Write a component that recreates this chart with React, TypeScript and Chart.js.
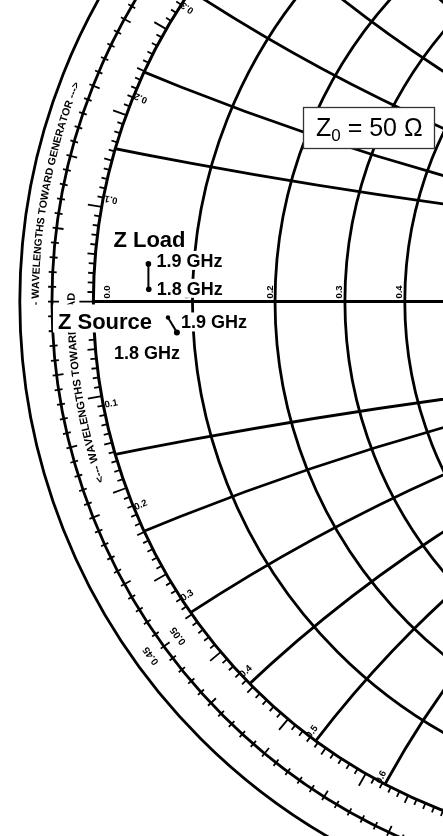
import React, { useEffect, useRef } from "react";
import { Chart, registerables } from "chart.js";

Chart.register(...registerables);

// ---------------- data ----------------
const characteristicImpedance = 50; // ohms
const frequencyLabels = ["1.8 GHz", "1.9 GHz"];
const loadResistance = [2.67, 2.59]; // ohms, at 1.8 / 1.9 GHz
const loadReactance = [0.62, 1.9];
const sourceResistance = [4.1, 3.66];
const sourceReactance = [-1.64, -0.83];

// Smith chart grid (normalized values)
const resistanceValues = [0, 0.1, 0.2, 0.3, 0.4, 0.5, 0.6, 0.8, 1];
const reactanceValues = [0.1, 0.2, 0.3, 0.4, 0.5, 0.6, 0.7, 0.8, 0.9, 1];
const resistanceTickLabels = ["0.0", "0.1", "0.2", "0.3", "0.4"];
const reactanceTickLabels = ["0.1", "0.2", "0.3", "0.4", "0.5", "0.6", "0.7", "0.8", "0.9", "1.0"];
const innerWavelengthLabels = ["0.05"]; // toward load
const outerWavelengthLabels = ["0.45"]; // toward generator
const outerRingText = "- WAVELENGTHS TOWARD GENERATOR --->";
const innerRingText = "<--- WAVELENGTHS TOWARD LOAD";

// visible window of the reflection-coefficient plane
const gammaReMin = -1.164;
const gammaReMax = -0.3658;
const gammaImMin = -0.9649;
const gammaImMax = 0.5414;

const FONT = "'Liberation Sans', Arial, Helvetica, sans-serif";

function toGamma(rOhm: number, xOhm: number): { x: number; y: number } {
  const a = rOhm / characteristicImpedance;
  const b = xOhm / characteristicImpedance;
  const d = (a + 1) * (a + 1) + b * b;
  return { x: (a * a - 1 + b * b) / d, y: (2 * b) / d };
}

const loadPoints = loadResistance.map((r, i) => toGamma(r, loadReactance[i]));
const sourcePoints = sourceResistance.map((r, i) => toGamma(r, sourceReactance[i]));

function arcText(ctx: CanvasRenderingContext2D, text: string, cx: number, cy: number, radius: number, start: number) {
  let a = start;
  for (const ch of text) {
    const w = ctx.measureText(ch).width;
    const mid = a + w / 2 / radius;
    ctx.save();
    ctx.translate(cx + radius * Math.cos(mid), cy + radius * Math.sin(mid));
    ctx.rotate(mid + Math.PI / 2);
    ctx.textAlign = "center";
    ctx.textBaseline = "middle";
    ctx.fillText(ch, 0, 0);
    ctx.restore();
    a += w / radius;
  }
}

const smithPlugin = {
  id: "smithGrid",
  beforeDatasetsDraw(chart: any) {
    const ctx: CanvasRenderingContext2D = chart.ctx;
    const xs = chart.scales.x;
    const ys = chart.scales.y;
    const X = (v: number) => xs.getPixelForValue(v);
    const Y = (v: number) => ys.getPixelForValue(v);
    const k = X(1) - X(0);
    const cx = X(0);
    const cy = Y(0);
    const TAU = Math.PI * 2;
    const ringInner = 1.076;
    const ringOuter = 1.135;

    ctx.save();
    ctx.fillStyle = "#fff";
    ctx.fillRect(0, 0, chart.width, chart.height);
    ctx.strokeStyle = "#000";
    ctx.fillStyle = "#000";

    // outer wavelength rings
    ctx.lineWidth = 2.8;
    [ringInner, ringOuter].forEach((s) => {
      ctx.beginPath();
      ctx.arc(cx, cy, k * s, 0, TAU);
      ctx.stroke();
    });

    // grid clipped to unit circle
    ctx.save();
    ctx.beginPath();
    ctx.arc(cx, cy, k, 0, TAU);
    ctx.clip();
    ctx.lineWidth = 2.8;
    resistanceValues.forEach((r) => {
      if (r === 0) return;
      ctx.beginPath();
      ctx.arc(X(r / (1 + r)), cy, k / (1 + r), 0, TAU);
      ctx.stroke();
    });
    reactanceValues.forEach((x) => {
      [1, -1].forEach((s) => {
        ctx.beginPath();
        ctx.arc(X(1), Y(s / x), k / x, 0, TAU);
        ctx.stroke();
      });
    });
    ctx.lineWidth = 3;
    ctx.beginPath();
    ctx.moveTo(X(-1), cy);
    ctx.lineTo(X(1), cy);
    ctx.stroke();
    ctx.restore();

    // unit circle
    ctx.lineWidth = 3;
    ctx.beginPath();
    ctx.arc(cx, cy, k, 0, TAU);
    ctx.stroke();

    // angle ticks on unit circle (1 degree)
    ctx.lineWidth = 1.8;
    ctx.beginPath();
    for (let d = 0; d < 360; d++) {
      const len = d % 10 === 0 ? 14 : d % 5 === 0 ? 8 : 6;
      const a = Math.PI + (d * Math.PI) / 180;
      ctx.moveTo(cx + k * Math.cos(a), cy + k * Math.sin(a));
      ctx.lineTo(cx + (k + len) * Math.cos(a), cy + (k + len) * Math.sin(a));
    }
    ctx.stroke();

    // wavelength ticks on the ring (0.002 lambda)
    const step = 0.002 * 4 * Math.PI;
    const rr = k * ringInner;
    ctx.beginPath();
    for (let n = 0; n < 250; n++) {
      const a = Math.PI + n * step;
      const inner = n % 5 === 0 ? 7 : 4;
      const outer = 4;
      ctx.moveTo(cx + (rr - inner) * Math.cos(a), cy + (rr - inner) * Math.sin(a));
      ctx.lineTo(cx + (rr + outer) * Math.cos(a), cy + (rr + outer) * Math.sin(a));
    }
    ctx.stroke();

    // ring texts
    const rOuterText = k * ((ringInner + ringOuter) / 2);
    const rInnerText = k * ((1 + ringInner) / 2) + 1;
    ctx.font = `bold 10.5px ${FONT}`;
    arcText(ctx, outerRingText, cx, cy, rOuterText, Math.PI - 0.006);
    ctx.font = `bold 11px ${FONT}`;
    arcText(ctx, innerRingText, cx, cy, rInnerText, Math.PI - (18.6 * Math.PI) / 180);

    // wavelength labels
    ctx.font = `bold 10px ${FONT}`;
    innerWavelengthLabels.forEach((l) => {
      const lam = parseFloat(l);
      const center = Math.PI - lam * 4 * Math.PI;
      const w = ctx.measureText(l).width;
      arcText(ctx, l, cx, cy, rInnerText + 2, center - w / 2 / (rInnerText + 2));
    });
    outerWavelengthLabels.forEach((l) => {
      const lam = parseFloat(l);
      const center = Math.PI + lam * 4 * Math.PI;
      const w = ctx.measureText(l).width;
      arcText(ctx, l, cx, cy, rOuterText, center - w / 2 / rOuterText);
    });

    // reactance labels
    ctx.font = `bold 9.5px ${FONT}`;
    reactanceValues.forEach((x, i) => {
      const lbl = reactanceTickLabels[i];
      const theta = 2 * Math.atan(x);
      const gx = (x * x - 1) / (x * x + 1);
      const gy = (2 * x) / (x * x + 1);
      ctx.save();
      ctx.translate(X(gx), Y(-gy));
      ctx.rotate(-theta);
      ctx.textAlign = "left";
      ctx.textBaseline = "alphabetic";
      ctx.fillText(lbl, 1.5, -2.5);
      ctx.restore();
      ctx.save();
      ctx.translate(X(gx), Y(gy));
      ctx.rotate(theta + Math.PI);
      ctx.textAlign = "right";
      ctx.textBaseline = "alphabetic";
      ctx.fillText(lbl, -1.5, -2.5);
      ctx.restore();
    });

    // resistance labels on real axis
    resistanceTickLabels.forEach((lbl) => {
      const r = parseFloat(lbl);
      const gx = (r - 1) / (r + 1);
      ctx.save();
      ctx.translate(X(gx) + (r === 0 ? 17 : -2.5), cy - 3);
      ctx.rotate(-Math.PI / 2);
      ctx.textAlign = "left";
      ctx.textBaseline = "alphabetic";
      ctx.fillText(lbl, 0, 0);
      ctx.restore();
    });

    // Z0 box
    const ca = chart.chartArea;
    const bx = ca.right - 136;
    const by = ca.top + 103;
    ctx.fillStyle = "#fff";
    ctx.fillRect(bx, by, 131, 41);
    ctx.strokeStyle = "#333";
    ctx.lineWidth = 1.3;
    ctx.strokeRect(bx + 0.5, by + 0.5, 131, 41);
    ctx.fillStyle = "#000";
    ctx.textAlign = "left";
    ctx.textBaseline = "alphabetic";
    let tx = bx + 13;
    const base = by + 29;
    ctx.font = `25px ${FONT}`;
    ctx.fillText("Z", tx, base);
    tx += ctx.measureText("Z").width;
    ctx.font = `17px ${FONT}`;
    ctx.fillText("0", tx, base + 5);
    tx += ctx.measureText("0").width;
    ctx.font = `25px ${FONT}`;
    ctx.fillText(" = 50 \u03A9", tx, base);

    // annotations
    const label = (text: string, x: number, y: number, font: string, box?: [number, number]) => {
      ctx.font = font;
      const w = ctx.measureText(text).width;
      if (box) {
        ctx.fillStyle = "#fff";
        ctx.fillRect(x - box[0], y - box[1], w + box[0] * 2 - 1, box[1] + 3);
      }
      ctx.fillStyle = "#000";
      ctx.textAlign = "left";
      ctx.textBaseline = "alphabetic";
      ctx.fillText(text, x, y);
    };
    const big = `bold 22px ${FONT}`;
    const mid = `bold 18px ${FONT}`;
    const lp = loadPoints.map((p) => [X(p.x), Y(p.y)]);
    const sp = sourcePoints.map((p) => [X(p.x), Y(p.y)]);
    label("Z Load", lp[1][0] - 35, lp[1][1] - 17, big);
    label(frequencyLabels[1], lp[1][0] + 8, lp[1][1] + 3, mid, [2, 16]);
    label(frequencyLabels[0], lp[0][0] + 8, lp[0][1] + 5.5, mid, [2, 16]);
    label("Z Source", sp[1][0] - 110, sp[1][1] + 12, big, [5, 25]);
    label(frequencyLabels[1], sp[1][0] + 13, sp[1][1] + 11, mid, [1, 16]);
    label(frequencyLabels[0], sp[0][0] - 63, sp[0][1] + 27, mid, [1, 16]);

    ctx.restore();
  },
};

export default function App() {
  const ref = useRef<HTMLCanvasElement | null>(null);
  useEffect(() => {
    document.body.style.margin = "0";
    if (!ref.current) return;
    const chart = new Chart(ref.current, {
      type: "scatter",
      data: {
        datasets: [
          {
            label: "Z Load",
            data: loadPoints,
            showLine: true,
            borderColor: "#000",
            backgroundColor: "#000",
            borderWidth: 2,
            pointRadius: [2.8, 2.8],
            pointBorderWidth: 0,
          },
          {
            label: "Z Source",
            data: sourcePoints,
            showLine: true,
            borderColor: "#000",
            backgroundColor: "#000",
            borderWidth: 2,
            pointRadius: [3, 2.2],
            pointBorderWidth: 0,
          },
        ],
      },
      options: {
        animation: false,
        responsive: true,
        maintainAspectRatio: false,
        layout: { padding: 0 },
        plugins: {
          legend: { display: false },
          tooltip: { enabled: false },
          title: { display: false },
        },
        scales: {
          x: { type: "linear", min: gammaReMin, max: gammaReMax, display: false },
          y: { type: "linear", min: gammaImMin, max: gammaImMax, display: false },
        },
        elements: { line: { tension: 0 } },
      },
      plugins: [smithPlugin],
    });
    return () => chart.destroy();
  }, []);
  return (
    <div style={{ position: "fixed", left: 0, top: 0, width: 443, height: 836, background: "#fff" }}>
      <canvas ref={ref} />
    </div>
  );
}
